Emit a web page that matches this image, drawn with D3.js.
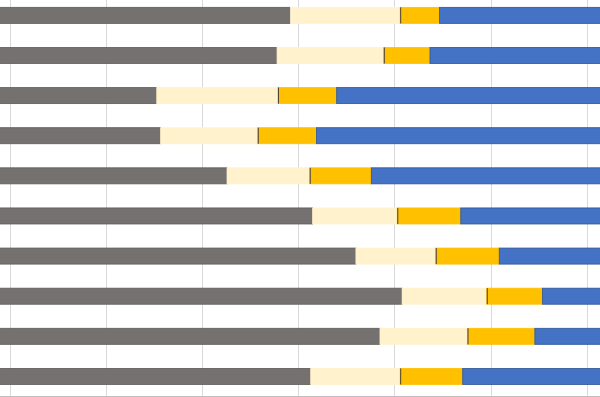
<!DOCTYPE html>
<html>
<head>
<meta charset="utf-8">
<script src="https://cdn.jsdelivr.net/npm/d3@7"></script>
<style>
  html, body { margin: 0; padding: 0; background: #fff; }
  svg { display: block; }
</style>
</head>
<body>
<svg id="chart" width="600" height="397"></svg>
<script>
// Categories (top to bottom) and series values (percent of 100% stacked bars)
const categories = ["1", "2", "3", "4", "5", "6", "7", "8", "9", "10"];
const seriesNames = ["A", "B", "C", "D"];
const seriesA = [49.2, 47.8, 35.3, 35.7, 42.6, 51.5, 56.0, 60.8, 58.5, 51.3];
const seriesB = [11.4, 11.1, 12.6, 10.1, 8.6, 8.8, 8.3, 8.8, 9.1, 9.3];
const seriesC = [4.1, 4.8, 6.1, 6.1, 6.4, 6.6, 6.6, 5.8, 7.0, 6.5];
const seriesD = [35.3, 36.3, 46.0, 48.1, 42.4, 33.1, 29.1, 24.6, 25.4, 32.9];
const gridTicks = [20, 30, 40, 50, 60, 70, 80];

const fills = ["#767171", "#FFF2CC", "#FFC000", "#4472C4"];
const strokes = ["#5f5b5b", "#FFF2CC", "#FFC000", "#2f5597"];

const svg = d3.select("#chart");
const W = 600, H = 397;

const table = categories.map((c, i) => ({
  cat: c, A: seriesA[i], B: seriesB[i], C: seriesC[i], D: seriesD[i]
}));
const stacked = d3.stack().keys(seriesNames)(table);

// Visible window of a wider 100% stacked chart
const x = d3.scaleLinear().domain([20, 80]).range([9.6, 586.8]);
const y = d3.scaleBand().domain(categories).range([-4.7, 396.5])
  .paddingInner(0.6).paddingOuter(0.3);

// gridlines
svg.append("g").selectAll("line").data(gridTicks).join("line")
  .attr("x1", d => Math.round(x(d)) + 0.5).attr("x2", d => Math.round(x(d)) + 0.5)
  .attr("y1", 0).attr("y2", 396)
  .attr("stroke", "#D9D9D9").attr("stroke-width", 1);

// bars
const g = svg.append("g");
stacked.forEach((s, si) => {
  g.append("g").selectAll("rect").data(s).join("rect")
    .attr("x", d => x(d[0]))
    .attr("y", d => y(d.data.cat))
    .attr("width", d => x(d[1]) - x(d[0]))
    .attr("height", y.bandwidth())
    .attr("fill", fills[si])
    .attr("stroke", strokes[si])
    .attr("stroke-width", 0.8);
});
// dark edge at the start of the gold segment
g.append("g").selectAll("line").data(stacked[2]).join("line")
  .attr("x1", d => x(d[0]) + 0.5).attr("x2", d => x(d[0]) + 0.5)
  .attr("y1", d => y(d.data.cat)).attr("y2", d => y(d.data.cat) + y.bandwidth())
  .attr("stroke", "#4a4235").attr("stroke-width", 1);

// bottom axis line
svg.append("line")
  .attr("x1", 0).attr("x2", W).attr("y1", 396.5).attr("y2", 396.5)
  .attr("stroke", "#BFBFBF").attr("stroke-width", 1);
</script>
</body>
</html>
